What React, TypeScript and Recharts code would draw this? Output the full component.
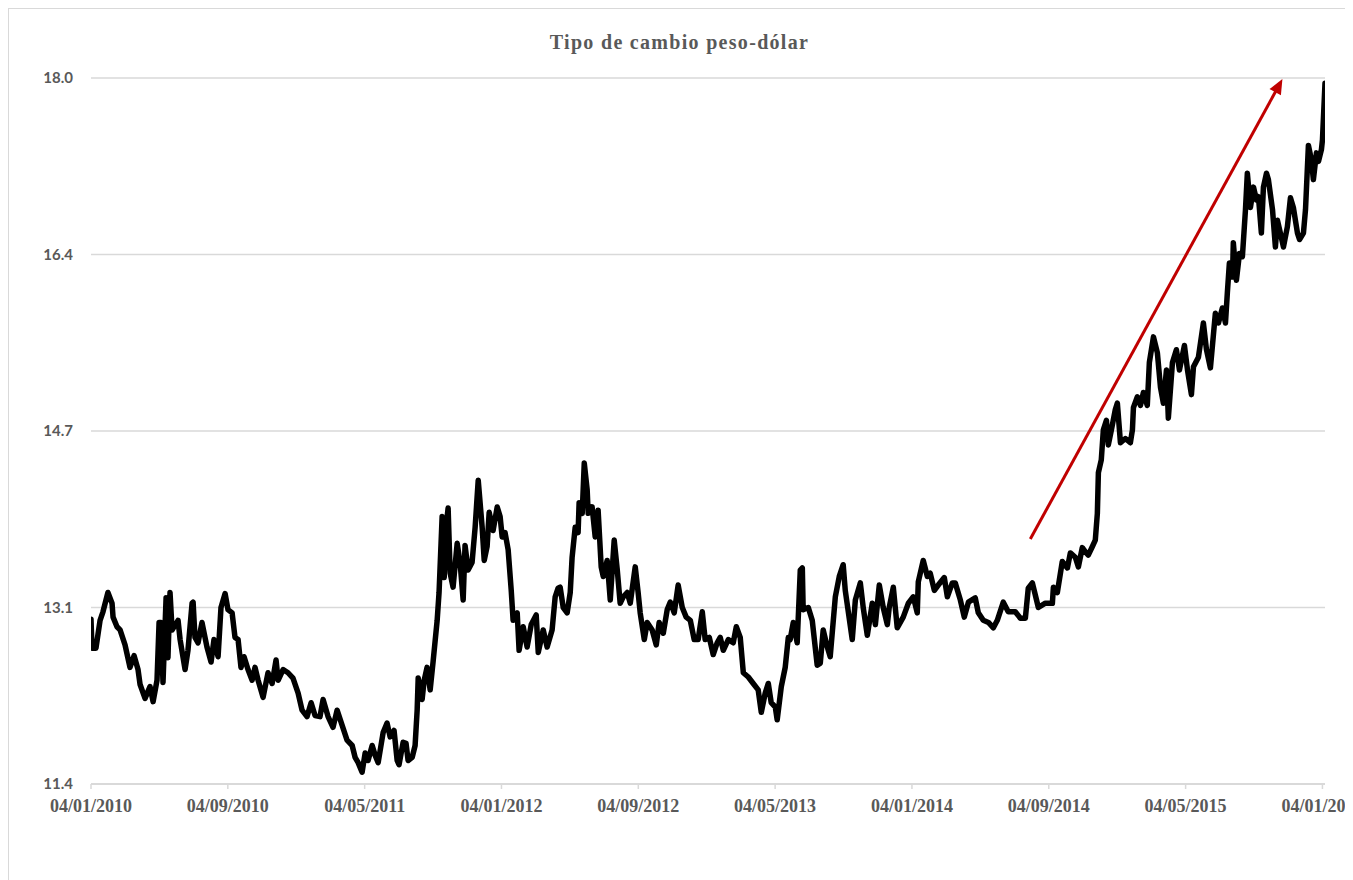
import React from "react";
import { LineChart, Line, XAxis, YAxis, CartesianGrid, ReferenceLine } from "recharts";

// Months elapsed since 04/01/2010 for each sampled observation
const monthsSinceStart: number[] = [
  0, 0.06, 0.29, 0.53, 0.7, 0.99, 1.23, 1.29, 1.52, 1.7, 1.99, 2.28, 2.52, 2.75, 2.87, 3.16, 3.45, 3.63, 3.86, 3.98,
  4.09, 4.21, 4.39, 4.5, 4.62, 4.74, 5.09, 5.21, 5.5, 5.67, 5.91, 5.97, 6.08, 6.26, 6.49, 6.78, 7.02, 7.19, 7.43, 7.6,
  7.84, 8.01, 8.25, 8.42, 8.6, 8.77, 8.95, 9.18, 9.42, 9.59, 9.77, 10.06, 10.35, 10.59, 10.82, 10.94, 11.23, 11.52, 11.81, 12.11,
  12.34, 12.63, 12.87, 13.1, 13.39, 13.57, 13.86, 14.15, 14.39, 14.68, 14.97, 15.27, 15.44, 15.62, 15.85, 16.03, 16.2, 16.44, 16.61, 16.79,
  17.08, 17.31, 17.49, 17.72, 17.9, 18.01, 18.25, 18.42, 18.54, 18.78, 18.95, 19.07, 19.13, 19.36, 19.48, 19.65, 19.83, 20.0, 20.24, 20.35,
  20.53, 20.65, 20.82, 20.88, 21.0, 21.17, 21.41, 21.58, 21.76, 21.87, 22.05, 22.28, 22.46, 22.64, 22.87, 22.99, 23.16, 23.28, 23.51, 23.75,
  23.92, 24.04, 24.21, 24.39, 24.57, 24.68, 24.92, 25.03, 25.27, 25.5, 25.74, 26.03, 26.15, 26.44, 26.67, 26.96, 27.14, 27.31, 27.43, 27.61,
  27.84, 28.02, 28.13, 28.31, 28.48, 28.54, 28.72, 28.84, 29.01, 29.07, 29.3, 29.48, 29.65, 29.83, 29.95, 30.18, 30.36, 30.59, 30.77, 30.94,
  31.12, 31.35, 31.53, 31.82, 31.99, 32.11, 32.35, 32.52, 32.81, 33.05, 33.22, 33.46, 33.69, 33.87, 34.1, 34.33, 34.57, 34.8, 35.04, 35.27,
  35.5, 35.74, 35.91, 36.15, 36.38, 36.61, 36.79, 36.97, 37.26, 37.55, 37.73, 37.96, 38.14, 38.43, 38.72, 39.01, 39.19, 39.42, 39.6, 39.77,
  40.01, 40.12, 40.36, 40.59, 40.77, 40.88, 41.06, 41.29, 41.47, 41.59, 41.64, 41.94, 42.17, 42.46, 42.64, 42.81, 43.05, 43.22, 43.52, 43.75,
  43.98, 44.1, 44.51, 44.69, 44.98, 45.15, 45.39, 45.68, 45.86, 46.09, 46.32, 46.56, 46.67, 46.91, 47.14, 47.49, 47.79, 48.08, 48.31, 48.37,
  48.66, 48.9, 49.07, 49.31, 49.54, 49.89, 50.07, 50.36, 50.53, 50.83, 51.06, 51.3, 51.7, 51.88, 52.17, 52.47, 52.76, 52.99, 53.34, 53.63,
  54.04, 54.34, 54.63, 54.8, 55.04, 55.39, 55.8, 56.21, 56.27, 56.5, 56.79, 57.09, 57.26, 57.55, 57.73, 57.96, 58.14, 58.31, 58.55, 58.72,
  58.84, 58.9, 59.07, 59.19, 59.37, 59.48, 59.66, 59.89, 60.01, 60.19, 60.48, 60.77, 60.89, 60.95, 61.18, 61.36, 61.53, 61.76, 61.88, 62.12,
  62.35, 62.53, 62.7, 62.88, 62.99, 63.23, 63.46, 63.64, 63.93, 64.11, 64.34, 64.46, 64.75, 65.04, 65.22, 65.45, 65.74, 65.92, 66.15, 66.33,
  66.44, 66.56, 66.74, 66.79, 66.97, 67.15, 67.32, 67.5, 67.61, 67.79, 67.97, 68.14, 68.26, 68.43, 68.55, 68.73, 68.84, 69.08, 69.25, 69.37,
  69.54, 69.72, 69.95, 70.13, 70.3, 70.54, 70.66, 70.89, 71.01, 71.18, 71.36, 71.47, 71.65, 71.77, 71.94, 72.0, 72.15,
];

// Peso per dollar exchange rate at each observation
const pesoPerDollar: number[] = [
  12.94, 12.67, 12.67, 12.93, 13.01, 13.19, 13.09, 12.96, 12.87, 12.84, 12.7, 12.49, 12.6, 12.47, 12.33, 12.2, 12.31, 12.17, 12.37, 12.91,
  12.91, 12.35, 13.14, 12.58, 13.19, 12.84, 12.93, 12.75, 12.47, 12.65, 13.09, 13.1, 12.77, 12.72, 12.91, 12.68, 12.54, 12.75, 12.59, 13.05,
  13.18, 13.03, 13.0, 12.77, 12.75, 12.49, 12.59, 12.47, 12.37, 12.49, 12.37, 12.21, 12.44, 12.34, 12.56, 12.37, 12.47, 12.44, 12.39, 12.25,
  12.09, 12.03, 12.16, 12.04, 12.03, 12.19, 12.03, 11.93, 12.09, 11.95, 11.81, 11.76, 11.65, 11.6, 11.51, 11.69, 11.62, 11.76, 11.67, 11.6,
  11.88, 11.97, 11.84, 11.9, 11.62, 11.58, 11.79, 11.78, 11.62, 11.65, 11.76, 12.09, 12.39, 12.19, 12.37, 12.49, 12.28, 12.54, 12.93, 13.19,
  13.9, 13.33, 13.89, 13.98, 13.37, 13.24, 13.65, 13.47, 13.12, 13.63, 13.4, 13.47, 13.8, 14.24, 13.8, 13.49, 13.62, 13.94, 13.77, 13.99,
  13.9, 13.71, 13.75, 13.59, 13.21, 12.93, 13.0, 12.65, 12.87, 12.68, 12.89, 12.98, 12.63, 12.84, 12.68, 12.84, 13.15, 13.23, 13.24, 13.05,
  13.0, 13.19, 13.52, 13.8, 13.75, 14.03, 13.93, 14.4, 14.15, 13.93, 13.99, 13.71, 13.96, 13.43, 13.34, 13.49, 13.12, 13.68, 13.4, 13.09,
  13.15, 13.19, 13.09, 13.43, 13.19, 13.0, 12.75, 12.91, 12.84, 12.7, 12.91, 12.81, 13.03, 13.1, 13.0, 13.26, 13.05, 12.96, 12.93, 12.75,
  12.75, 13.01, 12.75, 12.77, 12.61, 12.72, 12.77, 12.65, 12.75, 12.72, 12.87, 12.77, 12.44, 12.4, 12.34, 12.28, 12.07, 12.25, 12.34, 12.16,
  12.12, 12.0, 12.31, 12.49, 12.77, 12.75, 12.91, 12.72, 13.4, 13.42, 13.03, 13.05, 12.93, 12.51, 12.53, 12.84, 12.68, 12.59, 13.15, 13.34,
  13.45, 13.21, 12.75, 13.12, 13.28, 13.05, 12.79, 13.09, 12.89, 13.26, 13.05, 12.89, 13.05, 13.24, 12.86, 12.96, 13.09, 13.15, 13.0, 13.29,
  13.49, 13.34, 13.37, 13.21, 13.26, 13.33, 13.15, 13.28, 13.28, 13.12, 12.96, 13.1, 13.14, 13.0, 12.93, 12.91, 12.86, 12.93, 13.1, 13.01,
  13.01, 12.95, 12.95, 13.23, 13.28, 13.05, 13.09, 13.09, 13.24, 13.19, 13.48, 13.42, 13.56, 13.52, 13.43, 13.61, 13.57, 13.54, 13.62, 13.68,
  13.93, 14.31, 14.43, 14.71, 14.8, 14.57, 14.71, 14.9, 14.96, 14.59, 14.63, 14.59, 14.71, 14.92, 15.02, 14.94, 15.06, 14.94, 15.34, 15.58,
  15.43, 15.11, 14.96, 15.27, 14.82, 15.34, 15.46, 15.27, 15.5, 15.27, 15.04, 15.3, 15.39, 15.71, 15.46, 15.29, 15.8, 15.71, 15.85, 15.71,
  15.99, 16.27, 16.14, 16.46, 16.11, 16.36, 16.33, 16.77, 17.11, 16.79, 16.98, 16.86, 16.89, 16.55, 16.98, 17.11, 17.05, 16.77, 16.42, 16.67,
  16.55, 16.42, 16.61, 16.88, 16.79, 16.55, 16.49, 16.55, 16.77, 17.37, 17.23, 17.05, 17.3, 17.22, 17.33, 17.42, 17.95,
];

const xTickMonths: number[] = [0, 8, 16, 24, 32, 40, 48, 56, 64, 72];
const xTickLabels: string[] = [
  "04/01/2010", "04/09/2010", "04/05/2011", "04/01/2012", "04/09/2012",
  "04/05/2013", "04/01/2014", "04/09/2014", "04/05/2015", "04/01/2016",
];
const yTickValues: number[] = [11.4, 13.05, 14.7, 16.35, 18.0];
const yTickLabels: string[] = ["11.4", "13.1", "14.7", "16.4", "18.0"];

// Trend arrow annotation (start and tip, in months / pesos)
const arrowFrom = { m: 54.92, rate: 13.69 };
const arrowTo = { m: 69.66, rate: 17.99 };

const data = monthsSinceStart.map((m, i) => ({ m, rate: pesoPerDollar[i] }));

const W = 1341;
const H = 878;

const ArrowShape = (props: any) => {
  const { x1, y1, x2, y2 } = props;
  if ([x1, y1, x2, y2].some((v) => typeof v !== "number" || isNaN(v))) return null;
  const dx = x2 - x1;
  const dy = y2 - y1;
  const len = Math.sqrt(dx * dx + dy * dy);
  const ux = dx / len;
  const uy = dy / len;
  const headLen = 15;
  const headHalf = 6.5;
  const bx = x2 - ux * headLen;
  const by = y2 - uy * headLen;
  const px = -uy;
  const py = ux;
  const pts = `${x2},${y2} ${bx + px * headHalf},${by + py * headHalf} ${bx - px * headHalf},${by - py * headHalf}`;
  return (
    <g>
      <line x1={x1} y1={y1} x2={bx + ux * 2} y2={by + uy * 2} stroke="#C00000" strokeWidth={3} />
      <polygon points={pts} fill="#C00000" />
    </g>
  );
};

export default function App() {
  return (
    <div
      style={{
        position: "relative",
        width: W,
        height: H,
        border: "1px solid #d9d9d9",
        background: "#ffffff",
      }}
    >
      <div
        style={{
          position: "absolute",
          top: 21,
          left: 0,
          width: "100%",
          textAlign: "center",
          fontFamily: "'Liberation Serif', serif",
          fontWeight: 700,
          fontSize: 20,
          lineHeight: "24px",
          letterSpacing: "1.3px",
          color: "#595959",
        }}
      >
        Tipo de cambio peso-dólar
      </div>
      <LineChart width={W} height={H} data={data} margin={{ top: 69, right: 25, bottom: 73, left: 22 }}>
        <CartesianGrid horizontal={true} vertical={false} stroke="#d9d9d9" strokeWidth={1.5} />
        <XAxis
          dataKey="m"
          type="number"
          domain={[0, 72.15]}
          ticks={xTickMonths}
          interval={0}
          height={30}
          tickFormatter={(v: number) => xTickLabels[xTickMonths.indexOf(v)] ?? ""}
          tick={{ fill: "#595959", fontSize: 18, fontWeight: 700, fontFamily: "'Liberation Serif', serif" }}
          axisLine={{ stroke: "#d9d9d9", strokeWidth: 2 }}
          tickLine={{ stroke: "#d9d9d9", strokeWidth: 1.5 }}
          tickSize={5}
          tickMargin={10}
          allowDataOverflow={true}
        />
        <YAxis
          type="number"
          domain={[11.4, 18]}
          ticks={yTickValues}
          interval={0}
          width={60}
          tickFormatter={(v: number) => yTickLabels[yTickValues.indexOf(v)] ?? v.toFixed(1)}
          tick={{ fill: "#595959", fontSize: 15, fontWeight: 700, fontFamily: "Lato, 'Open Sans', sans-serif" }}
          axisLine={false}
          tickLine={false}
          tickMargin={12}
          allowDataOverflow={true}
        />
        <Line
          type="linear"
          dataKey="rate"
          stroke="#000000"
          strokeWidth={5.5}
          dot={false}
          activeDot={false}
          strokeLinejoin="round"
          strokeLinecap="round"
          isAnimationActive={false}
        />
        <ReferenceLine
          segment={[
            { x: arrowFrom.m, y: arrowFrom.rate },
            { x: arrowTo.m, y: arrowTo.rate },
          ]}
          ifOverflow="visible"
          shape={ArrowShape}
        />
      </LineChart>
    </div>
  );
}
